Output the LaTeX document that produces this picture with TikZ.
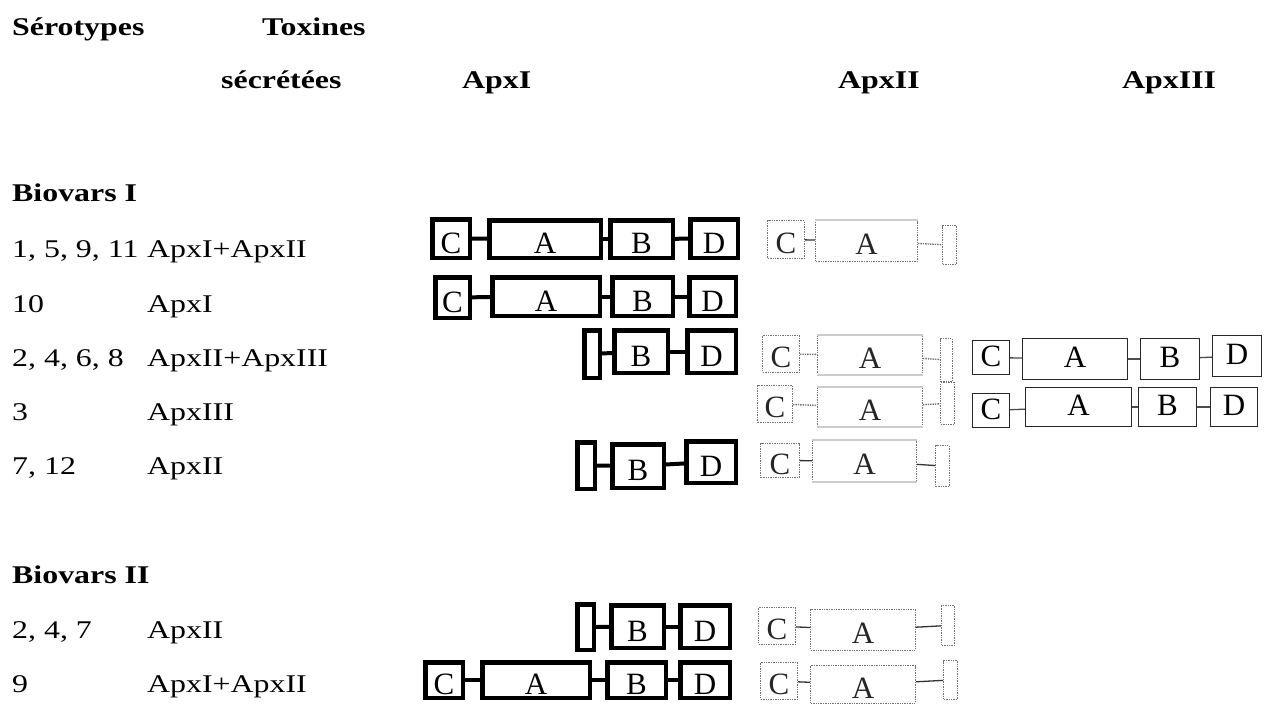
\documentclass[tikz,border=0pt]{standalone}
\usepackage{fontspec}
\setmainfont{Liberation Serif}[FakeStretch=1.25]
\newfontfamily\lettfont{Liberation Serif}
\tikzset{
 lbl/.style={anchor=base west, inner sep=0pt, font=\fontsize{25.5}{30}\selectfont},
 hdr/.style={anchor=base west, inner sep=0pt, font=\fontsize{25.5}{30}\selectfont\bfseries},
 bxI/.style={draw, line width=4.5pt, inner sep=0pt, text height=29pt, text depth=0pt, font=\lettfont\fontsize{31}{31}\selectfont},
 bxII/.style={draw=black!55, densely dotted, line width=1.4pt, inner sep=0pt, text=black!85, text height=27pt, text depth=0pt, font=\lettfont\fontsize{31}{31}\selectfont},
 bxIII/.style={draw=black!85, line width=1.1pt, inner sep=0pt, text height=17pt, text depth=0pt, font=\lettfont\fontsize{31}{31}\selectfont},
 lkI/.style={line width=4pt},
 lkIIs/.style={line width=1.3pt, black!80},
 lkIId/.style={line width=1.4pt, black!55, densely dotted},
 lkIII/.style={line width=1.3pt, black!70},
 edgeII/.style={line width=2.2pt, gray!40},
}
\newcommand\bx[7]{%
 \pgfmathsetmacro\myBW{#5-#3-2*\myinset}%
 \pgfmathsetmacro\myBH{#6-#4-2*\myinset}%
 \pgfmathsetmacro\myCX{(#3+#5)/2}%
 \pgfmathsetmacro\myCY{(#4+#6)/2}%
 \node[#1,minimum width=\myBW pt,minimum height=\myBH pt] (#2) at (\myCX,\myCY) {#7};}
\begin{document}
\begin{tikzpicture}[x=1pt,y=-1pt]
\useasboundingbox (0,0) rectangle (1269,705);
% headers
\node[hdr] (hsero) at (12,35) {Sérotypes};
\node[hdr] (htox) at (262,35) {Toxines};
\node[hdr] (hsec) at (221,88) {sécrétées};
\node[hdr] (hI) at (462,88) {ApxI};
\node[hdr] (hII) at (838,88) {ApxII};
\node[hdr] (hIII) at (1122,88) {ApxIII};
\node[hdr] (bv1) at (12,201) {Biovars I};
\node[hdr] (bv2) at (12,583) {Biovars II};
% rows
\node[lbl] (s1) at (12,257) {1, 5, 9, 11};
\node[lbl] (t1) at (147,257) {ApxI+ApxII};
\node[lbl] (s2) at (12,312) {10};
\node[lbl] (t2) at (147,312) {ApxI};
\node[lbl] (s3) at (12,366) {2, 4, 6, 8};
\node[lbl] (t3) at (147,366) {ApxII+ApxIII};
\node[lbl] (s4) at (12,420) {3};
\node[lbl] (t4) at (147,420) {ApxIII};
\node[lbl] (s5) at (12,474) {7, 12};
\node[lbl] (t5) at (147,474) {ApxII};
\node[lbl] (s6) at (12,638) {2, 4, 7};
\node[lbl] (t6) at (147,638) {ApxII};
\node[lbl] (s7) at (12,692) {9};
\node[lbl] (t7) at (147,692) {ApxI+ApxII};
% ApxI
\def\myinset{2.25}
\bx{bxI}{C1a}{430}{217}{472}{260}{C}
\bx{bxI}{A1a}{487}{218}{603}{260}{A}
\bx{bxI}{B1a}{608}{218}{675}{260}{B}
\bx{bxI}{D1a}{688}{217}{740}{260}{D}
\bx{bxI}{C2a}{433}{275}{472}{320}{C}
\bx{bxI}{A2a}{490}{275}{602}{318}{A}
\bx{bxI}{B2a}{610}{275}{675}{318}{B}
\bx{bxI}{D2a}{687}{275}{738}{318}{D}
\bx{bxI}{S3a}{582}{328}{602}{380}{}
\bx{bxI}{B3a}{612}{328}{670}{375}{B}
\bx{bxI}{D3a}{685}{328}{738}{375}{D}
\bx{bxI}{S5a}{575}{440}{597}{491}{}
\bx{bxI}{B5a}{610}{442}{666}{490}{B}
\bx{bxI}{D5a}{684}{439}{738}{485}{D}
\bx{bxI}{S6a}{575}{602}{596}{652}{}
\bx{bxI}{B6a}{609}{603}{666}{650}{B}
\bx{bxI}{D6a}{678}{603}{732}{650}{D}
\bx{bxI}{C7a}{423}{660}{465}{700}{C}
\bx{bxI}{A7a}{480}{660}{592}{700}{A}
\bx{bxI}{B7a}{605}{660}{668}{700}{B}
\bx{bxI}{D7a}{678}{660}{732}{700}{D}
\draw[lkI] (C1a) -- (A1a); \draw[lkI] (A1a) -- (B1a); \draw[lkI] (B1a) -- (D1a);
\draw[lkI] (C2a) -- (A2a); \draw[lkI] (A2a) -- (B2a); \draw[lkI] (B2a) -- (D2a);
\draw[lkI] (S3a) -- (B3a); \draw[lkI] (B3a) -- (D3a);
\draw[lkI] (S5a) -- (B5a); \draw[lkI] (B5a) -- (D5a);
\draw[lkI] (S6a) -- (B6a); \draw[lkI] (B6a) -- (D6a);
\draw[lkI] (C7a) -- (A7a); \draw[lkI] (A7a) -- (B7a); \draw[lkI] (B7a) -- (D7a);
% ApxII
\def\myinset{0.7}
\bx{bxII}{C1b}{767}{220}{805}{259}{C}
\bx{bxII}{A1b}{815}{220}{918}{262}{A}
\bx{bxII}{S1b}{942}{225}{957}{265}{}
\bx{bxII}{C3b}{762}{335}{800}{373}{C}
\bx{bxII}{A3b}{817}{335}{923}{375}{A}
\bx{bxII}{S3b}{940}{338}{953}{382}{}
\bx{bxII}{C4b}{757}{385}{793}{423}{C}
\bx{bxII}{A4b}{817}{387}{923}{427}{A}
\bx{bxII}{S4b}{940}{382}{955}{425}{}
\bx{bxII}{C5b}{760}{443}{800}{478}{C}
\bx{bxII}{A5b}{812}{440}{917}{482}{A}
\bx{bxII}{S5b}{935}{445}{950}{487}{}
\bx{bxII}{C6b}{758}{607}{796}{645}{C}
\bx{bxII}{A6b}{810}{609}{916}{651}{A}
\bx{bxII}{S6b}{941}{605}{955}{646}{}
\bx{bxII}{C7b}{760}{662}{798}{700}{C}
\bx{bxII}{A7b}{810}{665}{916}{704}{A}
\bx{bxII}{S7b}{943}{660}{958}{700}{}
\draw[edgeII] (A1b.north west) -- (A1b.north east);
\draw[edgeII] (A3b.north west) -- (A3b.north east);
\draw[edgeII] (A3b.south west) -- (A3b.south east);
\draw[edgeII] (A4b.north west) -- (A4b.north east);
\draw[edgeII] (A4b.south west) -- (A4b.south east);
\draw[edgeII] (A5b.north west) -- (A5b.north east);
\draw[edgeII] (A5b.south west) -- (A5b.south east);
\draw[lkIIs] (C1b) -- (A1b); \draw[lkIId] (A1b) -- (S1b);
\draw[lkIId] (C3b) -- (A3b); \draw[lkIId] (A3b) -- (S3b);
\draw[lkIId] (C4b) -- (A4b); \draw[lkIId] (A4b) -- (S4b);
\draw[lkIIs] (C5b) -- (A5b); \draw[lkIIs] (A5b) -- (S5b);
\draw[lkIIs] (C6b) -- (A6b); \draw[lkIIs] (A6b) -- (S6b);
\draw[lkIIs] (C7b) -- (A7b); \draw[lkIIs] (A7b) -- (S7b);
% ApxIII
\def\myinset{0.6}
\bx{bxIII}{C3c}{972}{340}{1010}{375}{C}
\bx{bxIII}{A3c}{1022}{338}{1128}{380}{A}
\bx{bxIII}{B3c}{1140}{338}{1200}{380}{B}
\bx{bxIII}{D3c}{1212}{335}{1262}{377}{D}
\bx{bxIII}{C4c}{972}{393}{1010}{428}{C}
\bx{bxIII}{A4c}{1025}{387}{1132}{427}{A}
\bx{bxIII}{B4c}{1138}{387}{1197}{427}{B}
\bx{bxIII}{D4c}{1210}{387}{1258}{427}{D}
\draw[lkIII] (C3c) -- (A3c); \draw[lkIII] (A3c) -- (B3c); \draw[lkIII] (B3c) -- (D3c);
\draw[lkIII] (C4c) -- (A4c); \draw[lkIII] (A4c) -- (B4c); \draw[lkIII] (B4c) -- (D4c);
\end{tikzpicture}
\end{document}
